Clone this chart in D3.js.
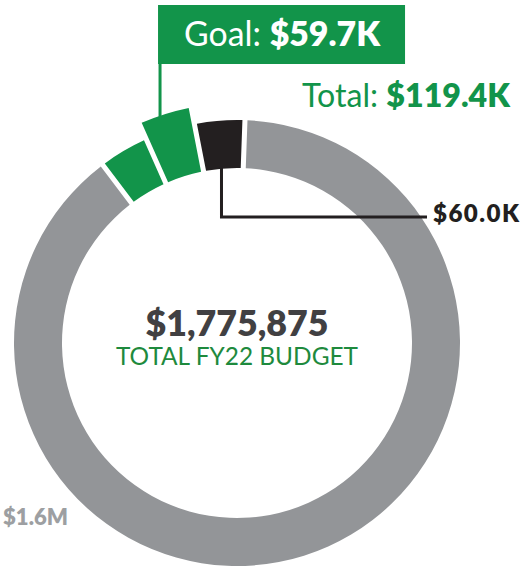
<!DOCTYPE html>
<html>
<head>
<meta charset="utf-8">
<script src="https://cdn.jsdelivr.net/npm/d3@7"></script>
<style>
  html, body { margin: 0; padding: 0; background: #fff; }
  svg { display: block; font-family: Lato, "Open Sans", sans-serif; }
</style>
</head>
<body>
<svg id="chart" width="523" height="568"></svg>
<script>
// FY22 budget breakdown, in thousands of dollars
const categories = ["Raised", "Goal", "Committed", "Remaining"];
const values = [59.7, 59.7, 60.0, 1596.475];
const colors = ["#12944a", "#12944a", "#231f20", "#939598"];
const totalBudget = 1775875;
const totalLabel = "TOTAL FY22 BUDGET";
const goalLabel = ["Goal: ", "$59.7K"];
const greenTotalLabel = ["Total: ", "$119.4K"];
const committedLabel = "$60.0K";
const remainingLabel = "$1.6M";

const svg = d3.select("#chart");
const cx = 237, cy = 343;
const rInner = 175, rOuter = 223, rRaised = 240;
const goalIndex = 1, committedIndex = 2;

const deg = Math.PI / 180;
const pie = d3.pie()
  .value(d => d.value)
  .sort(null)
  .startAngle(-37 * deg)
  .endAngle(-37 * deg + 2 * Math.PI)
  .padAngle(0.018);

const rows = categories.map((c, i) => ({ name: c, value: values[i], color: colors[i], index: i }));
const arcs = pie(rows);

const arc = d3.arc()
  .innerRadius(rInner)
  .outerRadius(d => d.data.index === goalIndex ? rRaised : rOuter)
  .padRadius(280);

const g = svg.append("g").attr("transform", `translate(${cx},${cy})`);
g.selectAll("path.slice")
  .data(arcs)
  .join("path")
  .attr("class", "slice")
  .attr("d", arc)
  .attr("fill", d => d.data.color);

// point on a slice at a fraction of its angular span and a given radius
function pointOn(a, frac, r) {
  const ang = a.startAngle + a.padAngle / 2 + frac * (a.endAngle - a.startAngle - a.padAngle);
  return [cx + r * Math.sin(ang), cy - r * Math.cos(ang)];
}

// grow the font a little, then spread letters, until the text spans the wanted width
function fitWidth(sel, target, maxGrow = 1.15) {
  const node = sel.node();
  const size = +sel.attr("font-size");
  let len = node.getComputedTextLength();
  const grow = Math.min(maxGrow, target / len);
  sel.attr("font-size", (size * grow).toFixed(2));
  len = node.getComputedTextLength();
  const n = node.textContent.length;
  if (n > 1) {
    const ls = Math.max(-1, Math.min(2.5, (target - len) / (n - 1)));
    sel.attr("letter-spacing", ls.toFixed(2));
  }
}

// Goal callout box with leader
const goalArc = arcs[goalIndex];
const [gx, gy] = pointOn(goalArc, 0.4, rRaised);
const boxLeft = gx - 2, boxTop = 5, boxW = 247, boxH = 59;
svg.append("rect")
  .attr("x", boxLeft).attr("y", boxTop)
  .attr("width", boxW).attr("height", boxH)
  .attr("fill", "#12944a");
svg.append("line")
  .attr("x1", gx).attr("x2", gx)
  .attr("y1", boxTop + boxH - 1).attr("y2", gy + 4)
  .attr("stroke", "#12944a").attr("stroke-width", 3);
const goalText = svg.append("text")
  .attr("x", boxLeft + 26).attr("y", 46)
  .attr("fill", "#fff").attr("font-size", 34);
goalText.append("tspan").attr("font-weight", 400).text(goalLabel[0]);
goalText.append("tspan").attr("font-weight", 800).text(goalLabel[1]);
fitWidth(goalText, 196);

// Green total
const totText = svg.append("text")
  .attr("x", 302).attr("y", 107)
  .attr("fill", "#12944a").attr("font-size", 33);
totText.append("tspan").attr("font-weight", 400).text(greenTotalLabel[0]);
totText.append("tspan").attr("font-weight", 800).text(greenTotalLabel[1]);
fitWidth(totText, 208);

// Committed slice leader and label
const comArc = arcs[committedIndex];
const [bx, by] = pointOn(comArc, 0.45, rInner);
const elbowY = 217;
svg.append("path")
  .attr("d", `M${bx},${by - 2}V${elbowY}H427`)
  .attr("fill", "none")
  .attr("stroke", "#231f20").attr("stroke-width", 3);
const comText = svg.append("text")
  .attr("x", 433).attr("y", 222)
  .attr("fill", "#231f20").attr("font-size", 21).attr("font-weight", 800)
  .text(committedLabel);
fitWidth(comText, 86);

// Center total
const numText = svg.append("text")
  .attr("x", cx).attr("y", 336)
  .attr("text-anchor", "middle")
  .attr("fill", "#414042").attr("font-size", 36).attr("font-weight", 800)
  .text(d3.format("$,")(totalBudget));
fitWidth(numText, 183);
const subText = svg.append("text")
  .attr("x", cx).attr("y", 365)
  .attr("text-anchor", "middle")
  .attr("fill", "#1e8a3d").attr("font-size", 22).attr("font-weight", 400)
  .text(totalLabel);
fitWidth(subText, 242);

// Remaining budget label
const remText = svg.append("text")
  .attr("x", 3).attr("y", 525)
  .attr("fill", "#9d9fa2").attr("font-size", 21).attr("font-weight", 800)
  .text(remainingLabel);
fitWidth(remText, 65);
</script>
</body>
</html>
